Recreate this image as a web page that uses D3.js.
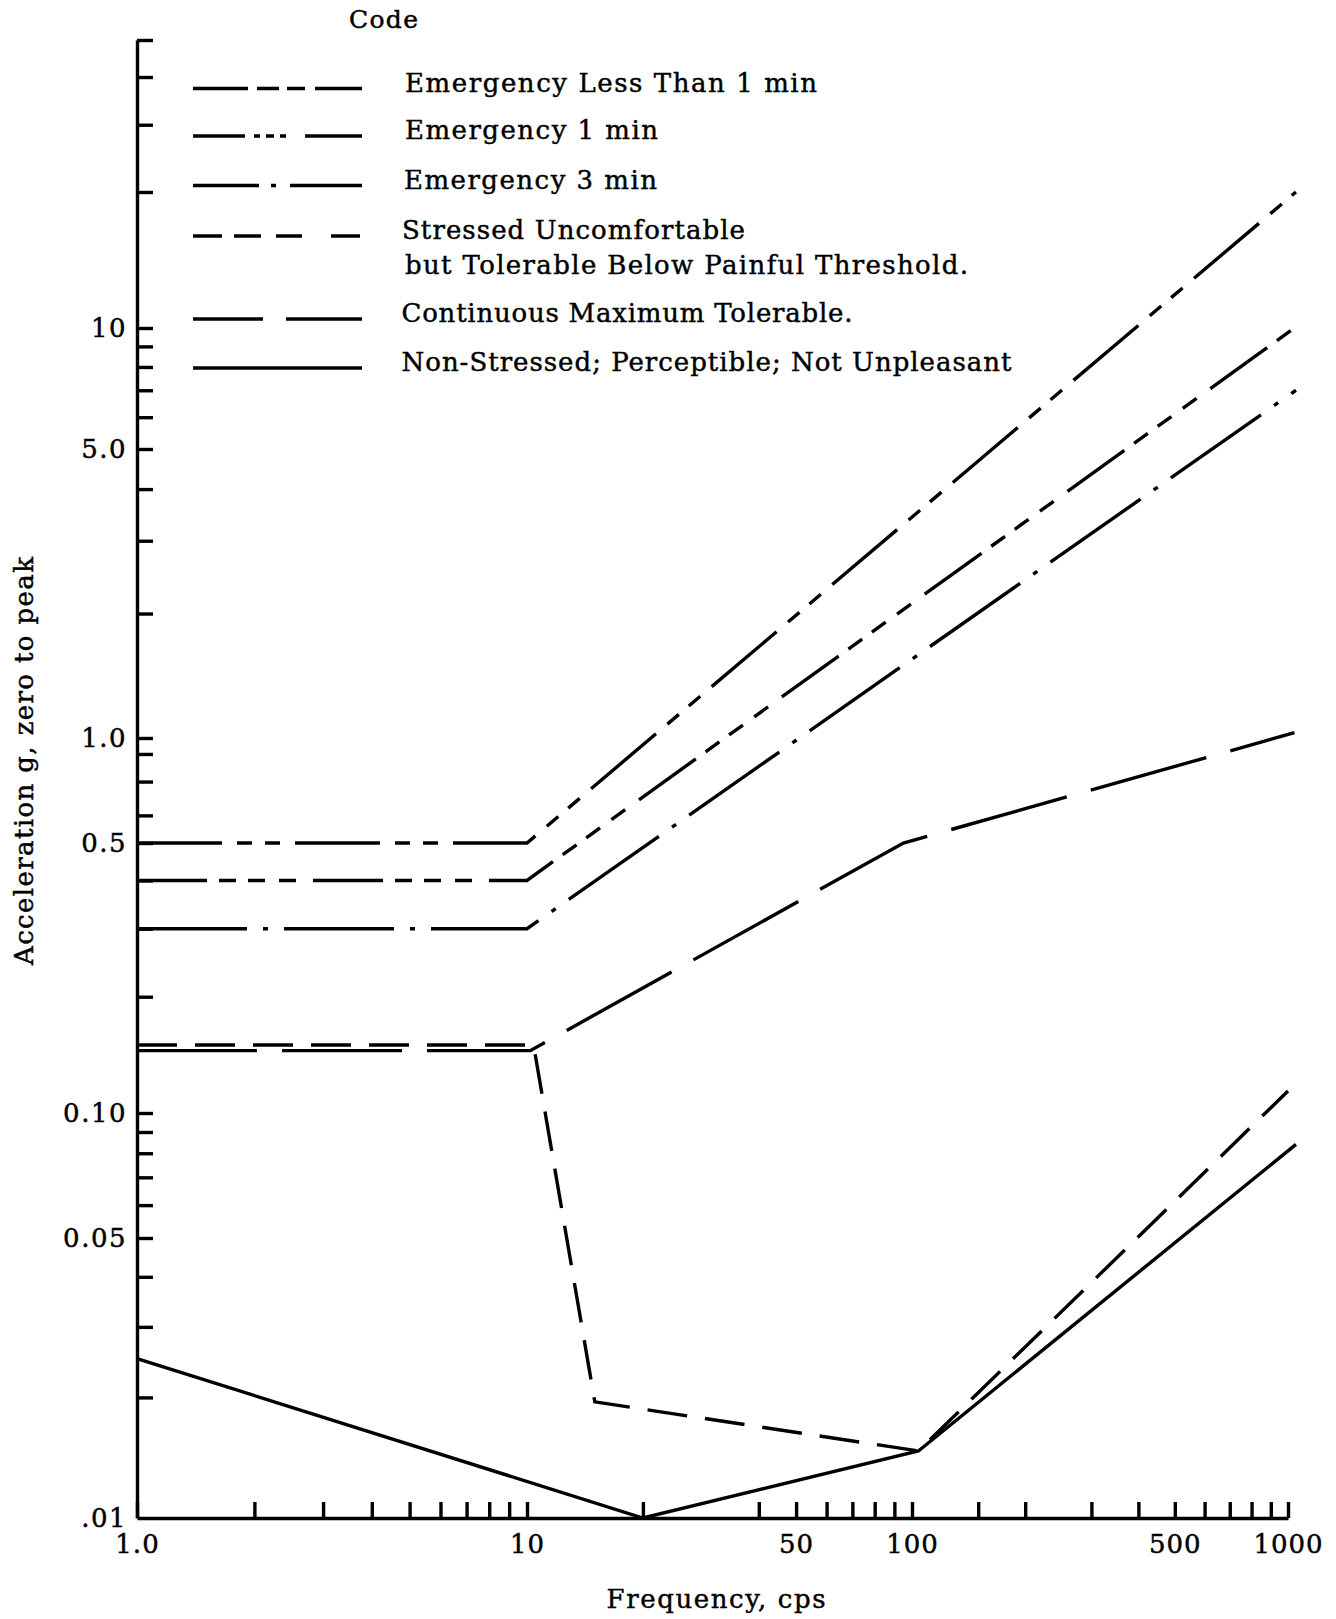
<!DOCTYPE html>
<html><head><meta charset="utf-8">
<script src="https://cdn.jsdelivr.net/npm/d3@7"></script>
<style>
html,body{margin:0;padding:0;background:#fff;}
svg{display:block;}
text{font-family:"DejaVu Serif",serif;fill:#000;stroke:#000;stroke-width:0.45px;}
</style></head><body>
<svg id="chart" width="1336" height="1619"></svg>
<script>
// ---------------- data ----------------
const xTickValues = [1,2,3,4,5,6,7,8,9,10,20,40,50,60,70,80,90,100,150,200,300,400,500,600,700,800,900,1000];
const xLabelValues = [1,10,50,100,500,1000];
const xTickLabels = ["1.0","10","50","100","500","1000"];
const yTickValues = [0.02,0.03,0.04,0.05,0.06,0.07,0.08,0.09,0.1,0.2,0.3,0.4,0.5,0.6,0.75,0.9,1,2,3,4,5,6,7,8,9,10,20,30,40,50];
const yLabelValues = [0.01,0.05,0.1,0.5,1,5,10];
const yTickLabels = [".01","0.05","0.10","0.5","1.0","5.0","10"];

const seriesNames = [
  ["Emergency Less Than 1 min"],
  ["Emergency 1 min"],
  ["Emergency 3 min"],
  ["Stressed Uncomfortable","but Tolerable Below Painful Threshold."],
  ["Continuous Maximum Tolerable."],
  ["Non-Stressed; Perceptible; Not Unpleasant"]
];
const emergLess1MinFreq = [1, 10, 1050];
const emergLess1MinAcc  = [0.5, 0.5, 20];
const emerg1MinFreq = [1, 10, 1040];
const emerg1MinAcc  = [0.4, 0.4, 10];
const emerg3MinFreq = [1, 10, 1050];
const emerg3MinAcc  = [0.3, 0.3, 7];
const stressedFreq = [1, 10.4, 15, 104, 1000];
const stressedAcc  = [0.15, 0.15, 0.0195, 0.0147, 0.114];
const contMaxFreq = [1, 10.2, 95, 1040];
const contMaxAcc  = [0.145, 0.145, 0.5, 1.03];
const nonStressedFreq = [1, 20, 104, 1050];
const nonStressedAcc  = [0.025, 0.01, 0.0147, 0.084];

const xTitle = "Frequency, cps";
const yTitle = "Acceleration g, zero to peak";
const legendTitle = "Code";

// ---------------- layout / style ----------------
const svg = d3.select("#chart");
// piecewise log scales following the drawn (hand-ruled) axis
const x = d3.scaleLog().domain([1,10,100,1000]).range([137,527,912,1288]);
const y = d3.scaleLog().domain([0.01,0.05,0.1,0.5,1,5,10,20,50]).range([1518,1238,1113,843,738,449,328,192,40]);

const lineStyles = [
  {dash:"85,15,15,13,15,15", legendDash:"55,9,22,8,18,10,47"},
  {dash:"70,12,17,12,17,14,17,17", legendDash:"52,9,6,6,8,6,6,19,57"},
  {dash:"110,16,5,16", legendDash:"66,12,5,14,72"},
  {dash:"40,18", legendDash:"29,12,27,15,26,29,29"},
  {dash:"120,25", legendDash:"70,23,76"},
  {dash:null, legendDash:null}
];
const seriesData = [
  d3.zip(emergLess1MinFreq, emergLess1MinAcc),
  d3.zip(emerg1MinFreq, emerg1MinAcc),
  d3.zip(emerg3MinFreq, emerg3MinAcc),
  d3.zip(stressedFreq, stressedAcc),
  d3.zip(contMaxFreq, contMaxAcc),
  d3.zip(nonStressedFreq, nonStressedAcc)
];

const SW = 3.4;

// ---------------- axes ----------------
const yTicksG = svg.append("g").attr("transform", `translate(${x(1)},0)`)
  .call(d3.axisRight(y).tickValues(yTickValues).tickFormat("").tickSize(16).tickSizeOuter(0));
yTicksG.selectAll("path,line").attr("stroke","#000").attr("stroke-width",SW);

const yLabG = svg.append("g").attr("transform", `translate(${x(1)},0)`)
  .call(d3.axisLeft(y).tickValues(yLabelValues).tickFormat((d,i)=>yTickLabels[yLabelValues.indexOf(d)]).tickSize(0).tickPadding(10));
yLabG.select(".domain").remove();
yLabG.selectAll("text").attr("font-family","DejaVu Serif").attr("font-size",26).attr("fill","#000").attr("letter-spacing",1.5);

const xTicksG = svg.append("g").attr("transform", `translate(0,${y(0.01)})`)
  .call(d3.axisTop(x).tickValues(xTickValues).tickFormat("").tickSize(16).tickSizeOuter(0));
xTicksG.selectAll("path,line").attr("stroke","#000").attr("stroke-width",SW);

const xLabG = svg.append("g").attr("transform", `translate(0,${y(0.01)})`)
  .call(d3.axisBottom(x).tickValues(xLabelValues).tickFormat(d=>xTickLabels[xLabelValues.indexOf(d)]).tickSize(0).tickPadding(17));
xLabG.select(".domain").remove();
xLabG.selectAll("text").attr("font-family","DejaVu Serif").attr("font-size",26).attr("fill","#000").attr("letter-spacing",1);

// axis titles
svg.append("text").attr("x",716).attr("y",1608).attr("text-anchor","middle")
  .attr("font-size",26).attr("textLength",219).attr("lengthAdjust","spacing").text(xTitle);
svg.append("text").attr("transform","translate(33,761) rotate(-90)").attr("text-anchor","middle")
  .attr("font-size",26).attr("textLength",408).attr("lengthAdjust","spacing").text(yTitle);

// ---------------- series ----------------
const line = d3.line().x(d=>x(d[0])).y(d=>y(d[1]));
svg.append("g").selectAll("path").data(seriesData).join("path")
  .attr("d", line)
  .attr("fill","none").attr("stroke","#000").attr("stroke-width",SW)
  .attr("stroke-linejoin","miter")
  .attr("stroke-dasharray",(d,i)=>lineStyles[i].dash);

// ---------------- legend ----------------
svg.append("text").attr("x",349).attr("y",28).attr("font-size",25)
  .attr("textLength",69).attr("lengthAdjust","spacing").text(legendTitle);
const legendLineY = [88.5,136,185.5,236,319,368];
const legendTextX = [405,405,404,402,401.5,401.5];
const legendTextW = [[412],[253],[253],[343,563],[451],[610]];
const legendSample = [193,362];
const lg = svg.append("g");
seriesNames.forEach((names,i)=>{
  lg.append("line").attr("x1",legendSample[0]).attr("x2",legendSample[1])
    .attr("y1",legendLineY[i]).attr("y2",legendLineY[i])
    .attr("stroke","#000").attr("stroke-width",SW)
    .attr("stroke-dasharray",lineStyles[i].legendDash);
  names.forEach((t,j)=>{
    lg.append("text").attr("x", j===0?legendTextX[i]:405).attr("y",legendLineY[i]+3+j*35)
      .attr("font-size",26).attr("textLength",legendTextW[i][j]).attr("lengthAdjust","spacing").text(t);
  });
});
</script>
</body></html>
